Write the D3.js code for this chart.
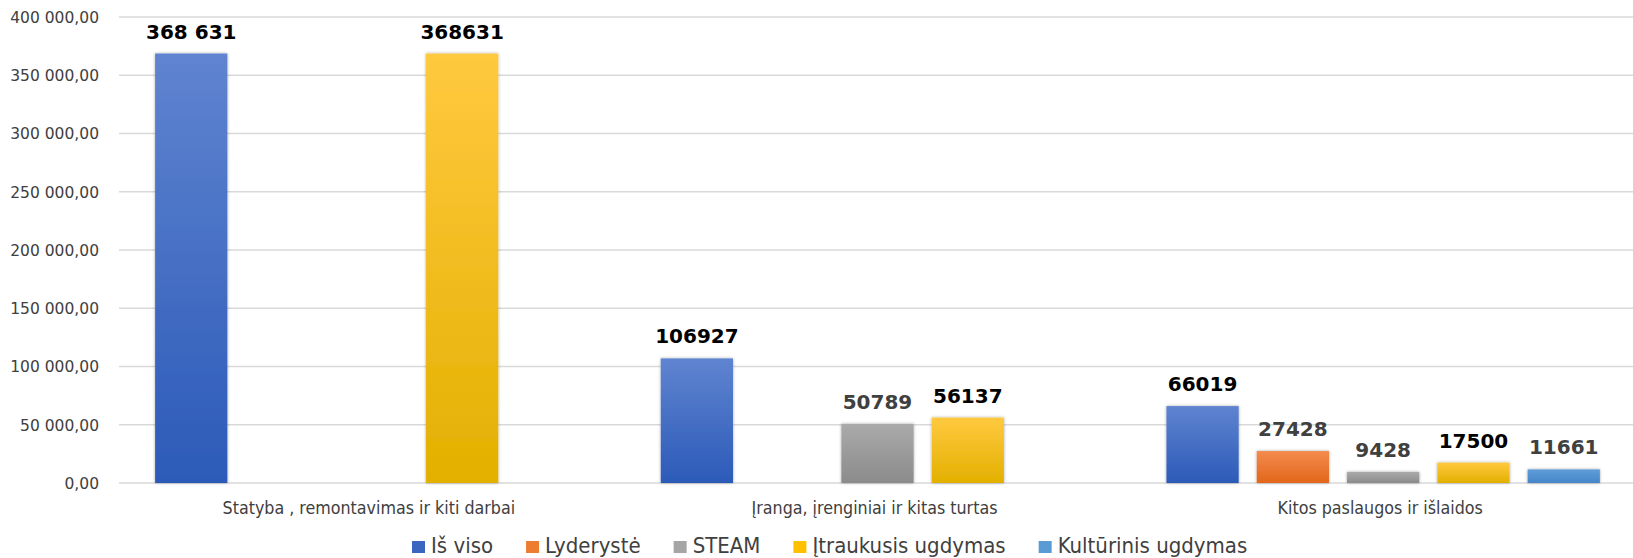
<html>
<head>
<meta charset="utf-8"/>
<script src="https://d3js.org/d3.v7.min.js"></script>
<style type="text/css">
body {
  margin: 0;
  overflow: hidden;
  background: #fff;
}
.tick text { font-family: "DejaVu Sans"; font-size: 15.5px; fill: #404040; }
.cat { font-family: "Liberation Sans Narrow", "DejaVu Sans Condensed", "Open Sans"; font-size: 17.7px; fill: #404040; }
.leg { font-family: "Liberation Sans Narrow", "DejaVu Sans Condensed", "Open Sans"; font-size: 22px; fill: #404040; }
.val { font-family: "DejaVu Sans"; font-weight: bold; font-size: 20px; }
</style>
</head>
<body>
<div id="v"></div>
<script type="text/javascript">
var categories = ["Statyba , remontavimas ir kiti darbai", "Įranga, įrenginiai ir kitas turtas", "Kitos paslaugos ir išlaidos"];
var seriesNames = ["Iš viso", "Lyderystė", "STEAM", "Įtraukusis ugdymas", "Kultūrinis ugdymas"];
var isViso     = [368631, 106927, 66019];
var lyderyste  = [null, null, 27428];
var steam      = [null, 50789, 9428];
var itraukusis = [368631, 56137, 17500];
var kulturinis = [null, null, 11661];
// labels as written on the chart (first one has a thousands space)
var valueLabels = [
  ["368 631", "106927", "66019"],
  [null, null, "27428"],
  [null, "50789", "9428"],
  ["368631", "56137", "17500"],
  [null, null, "11661"]
];
var yTicks = [0, 50000, 100000, 150000, 200000, 250000, 300000, 350000, 400000];

var seriesValues = [isViso, lyderyste, steam, itraukusis, kulturinis];
var colorsTop = ["#5f84d0", "#f38b4e", "#aaaaaa", "#ffc93f", "#5f9dd8"];
var colorsBot = ["#2c5ab8", "#e2661a", "#8b8b8b", "#e3b000", "#4586c9"];
var legendColor = ["#3a66c0", "#ed7d31", "#a5a5a5", "#ffc000", "#5b9bd5"];
var labelColor = ["#000", "#404040", "#404040", "#000", "#404040"];

var width = 1633, height = 558;
var plotLeft = 119, plotRight = 1636, plotTop = 17, plotBottom = 483;

var svg = d3.select("#v").append("svg")
  .attr("width", width)
  .attr("height", height);

var defs = svg.append("defs");
seriesNames.forEach(function(s, i) {
  var g = defs.append("linearGradient")
    .attr("id", "grad" + i)
    .attr("x1", 0).attr("y1", 0).attr("x2", 0).attr("y2", 1);
  g.append("stop").attr("offset", "0%").attr("stop-color", colorsTop[i]);
  g.append("stop").attr("offset", "100%").attr("stop-color", colorsBot[i]);
});
var f = defs.append("filter").attr("id", "shadow")
  .attr("x", "-20%").attr("y", "-20%").attr("width", "140%").attr("height", "140%");
f.append("feDropShadow").attr("dx", 0).attr("dy", 0).attr("stdDeviation", 1.8)
  .attr("flood-color", "#000").attr("flood-opacity", 0.35);

var y = d3.scaleLinear().domain([0, 400000]).range([plotBottom, plotTop]);
var x0 = d3.scaleBand().domain(categories).range([plotLeft, plotRight]).padding(0);
var x1 = d3.scaleBand().domain(d3.range(seriesNames.length))
  .range([0, x0.bandwidth()]).paddingInner(0.2).paddingOuter(0.4);

var fmt = function(d) {
  return d3.format(",.2f")(d).replace(/,/g, " ").replace(".", ",");
};

// gridlines
svg.append("g").selectAll("line")
  .data(yTicks).enter()
  .append("line")
  .attr("x1", plotLeft).attr("x2", width)
  .attr("y1", function(d) { return y(d); })
  .attr("y2", function(d) { return y(d); })
  .attr("stroke", "#d9d9d9")
  .attr("stroke-width", 1.5);

var yAxis = svg.append("g")
  .attr("transform", "translate(" + (plotLeft - 17) + ",0)")
  .call(d3.axisLeft(y).tickValues(yTicks).tickFormat(fmt).tickSize(0));
yAxis.select(".domain").remove();
yAxis.selectAll(".tick text").attr("dy", "0.35em");

// bars
var bars = [];
seriesValues.forEach(function(vals, si) {
  vals.forEach(function(v, ci) {
    if (v != null) bars.push({ s: si, c: ci, v: v, label: valueLabels[si][ci] });
  });
});

svg.append("g").selectAll("rect")
  .data(bars).enter()
  .append("rect")
  .attr("x", function(d) { return x0(categories[d.c]) + x1(d.s); })
  .attr("y", function(d) { return y(d.v); })
  .attr("width", x1.bandwidth())
  .attr("height", function(d) { return y(0) - y(d.v); })
  .attr("fill", function(d) { return "url(#grad" + d.s + ")"; })
  .attr("filter", "url(#shadow)");

svg.append("g").selectAll("text")
  .data(bars).enter()
  .append("text")
  .attr("class", "val")
  .attr("x", function(d) { return x0(categories[d.c]) + x1(d.s) + x1.bandwidth() / 2; })
  .attr("y", function(d) { return y(d.v) - 15; })
  .attr("text-anchor", "middle")
  .attr("fill", function(d) { return labelColor[d.s]; })
  .text(function(d) { return d.label; });

// category labels
svg.append("g").selectAll("text")
  .data(categories).enter()
  .append("text")
  .attr("class", "cat")
  .attr("x", function(d) { return x0(d) + x0.bandwidth() / 2 - 3; })
  .attr("y", 514)
  .attr("text-anchor", "middle")
  .text(function(d) { return d; });

// legend
var legend = svg.append("g").attr("transform", "translate(412,0)");
var lx = 0;
seriesNames.forEach(function(s, i) {
  var g = legend.append("g").attr("transform", "translate(" + lx + ",0)");
  g.append("rect").attr("x", 0).attr("y", 541).attr("width", 13).attr("height", 12)
    .attr("fill", legendColor[i]);
  var t = g.append("text").attr("class", "leg").attr("x", 19).attr("y", 553).text(s);
  lx += 19 + t.node().getComputedTextLength() + 33;
});
</script>
</body>
</html>
